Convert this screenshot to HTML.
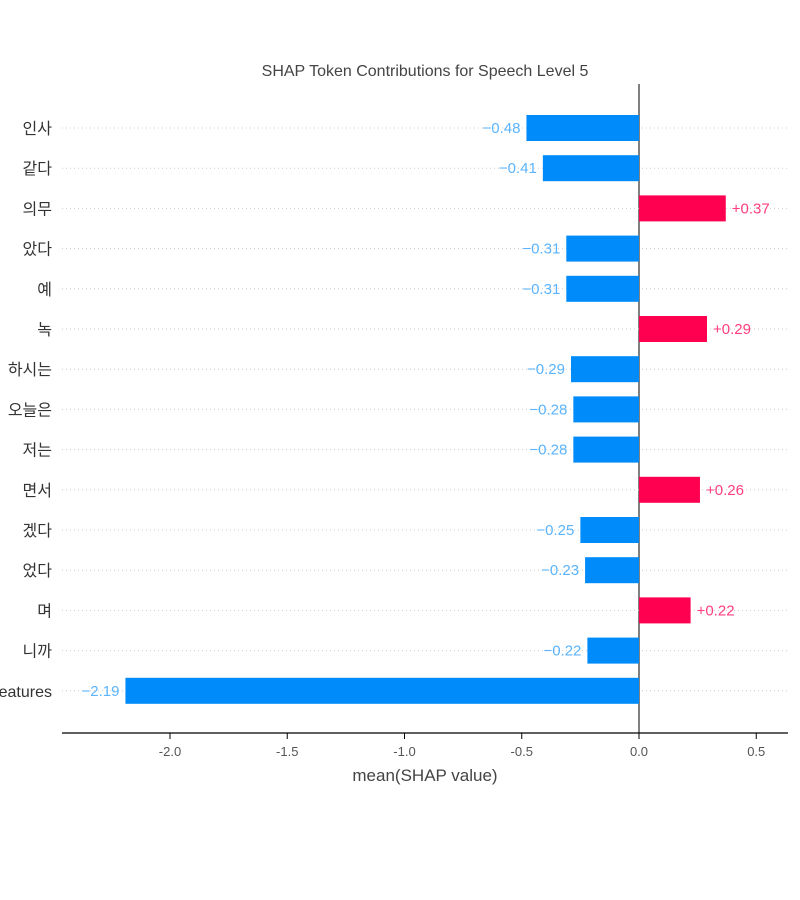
<!DOCTYPE html>
<html><head><meta charset="utf-8"><style>
body{margin:0;background:#fff;}
svg{display:block;font-family:"Liberation Sans","Noto Sans CJK KR",sans-serif;}
</style></head><body>
<svg id="chart" width="800" height="900">
<text x="425" y="76" text-anchor="middle" font-size="16" fill="#444">SHAP Token Contributions for Speech Level 5</text>
</svg>
<script>
const categories=["인사","같다","의무","았다","예","녹","하시는","오늘은","저는","면서","겠다","었다","며","니까","other features"];
const values=[-0.48,-0.41,0.37,-0.31,-0.31,0.29,-0.29,-0.28,-0.28,0.26,-0.25,-0.23,0.22,-0.22,-2.19];
const tickValues=[-2.0,-1.5,-1.0,-0.5,0.0,0.5];
const tickLabels=["-2.0","-1.5","-1.0","-0.5","0.0","0.5"];
const svg=document.getElementById('chart');
const NS='http://www.w3.org/2000/svg';
const x=v=>639+v*234.5;
const y=i=>128+i*40.2;
function mk(t,a){const e=document.createElementNS(NS,t);for(const k in a)e.setAttribute(k,a[k]);svg.appendChild(e);return e;}
let z=mk('line',{x1:x(0),x2:x(0),y1:84,y2:733,stroke:'#000','stroke-width':1});


categories.forEach((c,i)=>{
  const v=values[i], yy=y(i);
  const g=mk('line',{x1:62,x2:788,y1:yy,y2:yy,stroke:'#ccc','stroke-dasharray':'1,3','stroke-width':1});
  
  
  const lab=mk('text',{x:52,y:yy+6,'text-anchor':'end','font-size':16,fill:'#333'});
  lab.textContent=c;
  
  
  const col=v<0?'#008bfb':'#ff0051';
  const x0=Math.min(x(0),x(v)), w=Math.abs(x(v)-x(0));
  const b=mk('rect',{x:x0,y:yy-13,width:w,height:26,fill:col});
  
  
  const t=mk('text',{x:v<0?x(v)-6:x(v)+6,y:yy+5,'text-anchor':v<0?'end':'start','font-size':15,fill:v<0?'#5bb4fd':'#ff3d7f'});
  t.textContent=(v<0?'−':'+')+Math.abs(v).toFixed(2);
  
  
});
const ax=mk('line',{x1:62,x2:788,y1:733,y2:733,stroke:'#000','stroke-width':1.2});


tickValues.forEach((v,i)=>{
  const tk=mk('line',{x1:x(v),x2:x(v),y1:733,y2:739,stroke:'#000'});
  
  
  const tl=mk('text',{x:x(v),y:756,'text-anchor':'middle','font-size':13,fill:'#555'});
  tl.textContent=tickLabels[i];
  
  
});
const xt=mk('text',{x:425,y:781,'text-anchor':'middle','font-size':17,fill:'#444'});
xt.textContent='mean(SHAP value)';


</script>
</body></html>
